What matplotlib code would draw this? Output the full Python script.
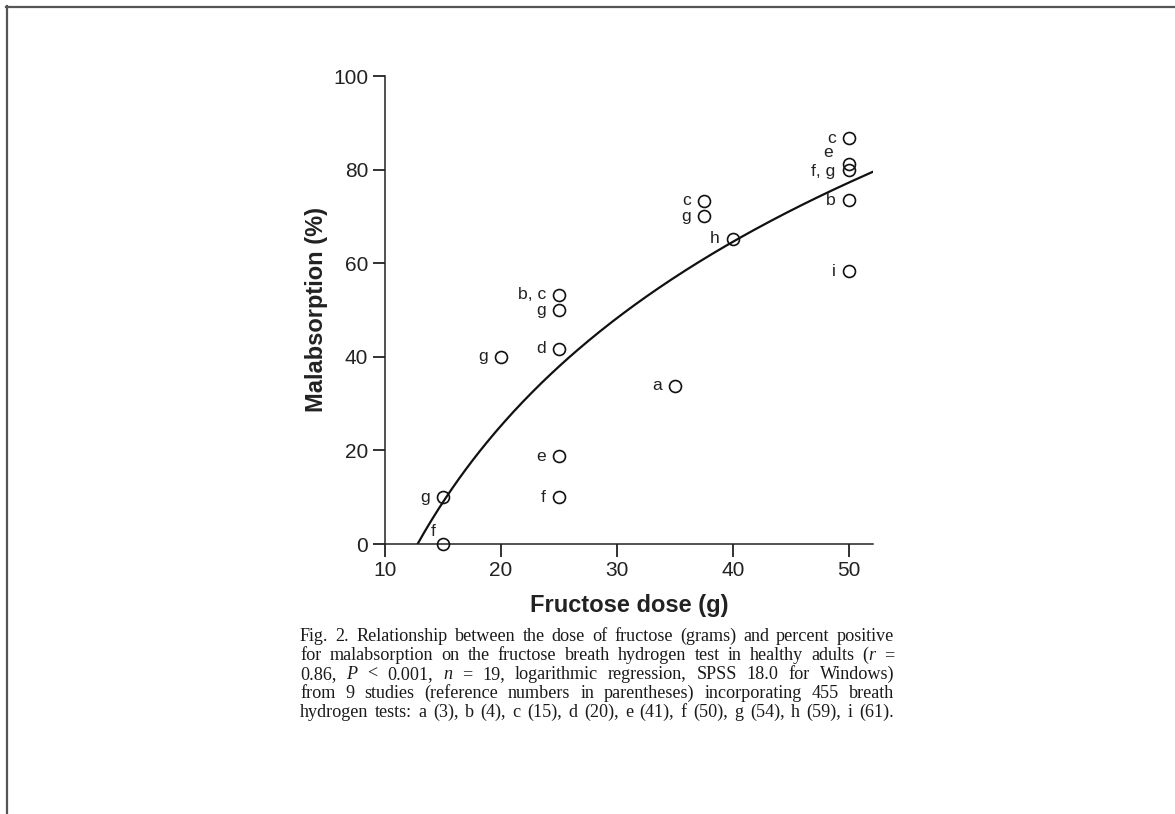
import numpy as np
import matplotlib
matplotlib.use("Agg")
import matplotlib.pyplot as plt
from matplotlib.lines import Line2D

# ---- data ----
dose = [15, 15, 20, 25, 25, 25, 25, 25, 35, 37.5, 37.5, 40, 50, 50, 50, 50, 50]
malabs = [0, 10, 40, 41.7, 50, 53.3, 18.8, 10, 33.8, 73.3, 70, 65.2, 86.7, 81.2, 80, 73.4, 58.3]
study = ["f", "g", "g", "d", "g", "b, c", "e", "f", "a", "c", "g", "h", "c", "e", "f, g", "b", "i"]
# logarithmic regression y = a + b*ln(x)
fit_a, fit_b = -144.6, 56.7
x_ticks = [10, 20, 30, 40, 50]
y_ticks = [0, 20, 40, 60, 80, 100]

# label offsets in pixels (dx, dy) relative to the marker centre
label_off = {0: (-7, 13), 13: (-16, 11), 14: (-13, -1.5)}
default_off = (-13, 0)

W, H = 1175, 814
fig = plt.figure(figsize=(W / 100, H / 100), dpi=100)
plt.rcParams['font.family'] = ['Liberation Sans', 'DejaVu Sans']

ax = fig.add_axes([385 / W, 1 - 544 / H, (873 - 385) / W, (544 - 76) / H])
ax.set_xlim(10, 52.1)
ax.set_ylim(0, 100)

xs = np.linspace(np.exp(-fit_a / fit_b), 52.1, 200)
ax.plot(xs, fit_a + fit_b * np.log(xs), color='#111111', lw=1.6, zorder=2)
ax.plot(dose, malabs, linestyle='none', marker='o', markersize=8.6,
        markerfacecolor='none', markeredgecolor='#111111', markeredgewidth=1.2,
        clip_on=False, zorder=3)

for i, (x, y, s) in enumerate(zip(dose, malabs, study)):
    dx, dy = label_off.get(i, default_off)
    ax.annotate(s, (x, y), xytext=(dx * 0.72, dy * 0.72), textcoords='offset points',
                ha='right', va='center', fontsize=12.6, color='#222222')

for side in ['top', 'right']:
    ax.spines[side].set_visible(False)
for side in ['left', 'bottom']:
    ax.spines[side].set_linewidth(1.1)
    ax.spines[side].set_color('#222222')
ax.set_xticks(x_ticks)
ax.set_yticks(y_ticks)
ax.tick_params(direction='out', length=9, width=1.3, labelsize=15, colors='#222222', pad=3)

ax.set_xlabel('Fructose dose (g)', fontsize=17, fontweight='bold', labelpad=10, color='#222222')
ax.set_ylabel('Malabsorption (%)', fontsize=17, fontweight='bold', labelpad=4, color='#222222')

# ---- caption (justified); *...* marks italic pieces ----
caption = [
    "Fig. 2. Relationship between the dose of fructose (grams) and percent positive",
    "for malabsorption on the fructose breath hydrogen test in healthy adults (*r* =",
    "0.86, *P* < 0.001, *n* = 19, logarithmic regression, SPSS 18.0 for Windows)",
    "from 9 studies (reference numbers in parentheses) incorporating 455 breath",
    "hydrogen tests: a (3), b (4), c (15), d (20), e (41), f (50), g (54), h (59), i (61).",
]
left_px, right_px = 300, 894
base0, step = 641, 19
cap_size = 13.1
fig.canvas.draw()
renderer = fig.canvas.get_renderer()
for li, line in enumerate(caption):
    words = line.split(' ')
    word_pieces = []
    for w in words:
        parts = w.split('*')
        pieces = []
        for k, p in enumerate(parts):
            if not p:
                continue
            t = fig.text(0, 0, p, fontsize=cap_size, family=['Liberation Serif', 'DejaVu Serif'],
                         style='italic' if k % 2 == 1 else 'normal', color='#1a1a1a',
                         va='baseline', ha='left')
            pieces.append((t, t.get_window_extent(renderer).width))
        word_pieces.append(pieces)
    widths = [sum(pw for _, pw in pcs) for pcs in word_pieces]
    gap = (right_px - left_px - sum(widths)) / (len(words) - 1)
    x = left_px
    yb = 1 - (base0 + li * step) / H
    for pcs, w in zip(word_pieces, widths):
        xx = x
        for t, pw in pcs:
            t.set_position((xx / W, yb))
            xx += pw
        x += w + gap

# ---- page border ----
fig.add_artist(Line2D([6 / W, 1], [1 - 6.5 / H, 1 - 6.5 / H], transform=fig.transFigure,
                      color='#555555', lw=1.6))
fig.add_artist(Line2D([6.5 / W, 6.5 / W], [0, 1 - 6 / H], transform=fig.transFigure,
                      color='#555555', lw=1.6))

fig.savefig('out.png', dpi=100)
